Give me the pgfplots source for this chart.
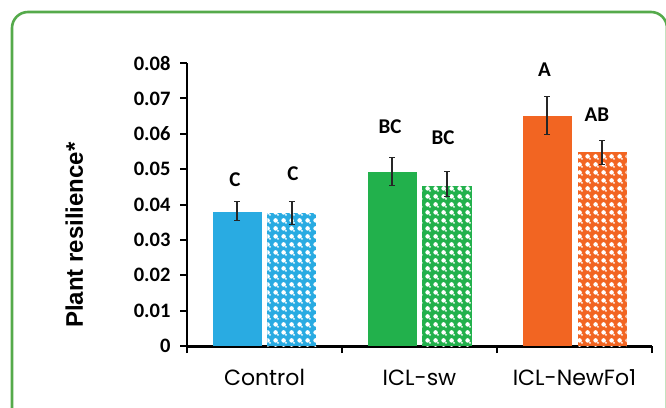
\documentclass[border=0pt]{standalone}
\usepackage{pgfplots}
\pgfplotsset{compat=1.18}
\usepackage{fontspec}
\setmainfont{Carlito}
\newfontfamily\catfont{Poppins}
\newfontfamily\labfont{Liberation Sans}
\usetikzlibrary{patterns}

\definecolor{cblue}{RGB}{41,171,226}
\definecolor{cgreen}{RGB}{34,177,76}
\definecolor{corange}{RGB}{242,101,34}
\definecolor{framegreen}{RGB}{85,170,75}

\pgfdeclarepatternformonly{balls}{\pgfqpoint{0pt}{0pt}}{\pgfqpoint{8pt}{8pt}}{\pgfqpoint{8pt}{8pt}}{%
  \pgfpathcircle{\pgfqpoint{4pt}{4pt}}{2.5pt}%
  \pgfpathcircle{\pgfqpoint{6.7pt}{1.3pt}}{1.1pt}%
  \pgfusepath{fill}}

\pgfplotsset{
  solidbar/.style={ybar, bar width=49pt, bar shift=0pt, draw=none, fill=#1,
    error bars/.cd, y dir=both, y explicit,
    error bar style={black!85, line width=1.1pt},
    error mark options={black!85, line width=1.1pt, mark size=3pt, rotate=90}},
  patbar/.style={ybar, bar width=49pt, bar shift=0pt, draw=none, fill=#1,
    postaction={pattern=balls, pattern color=white},
    error bars/.cd, y dir=both, y explicit,
    error bar style={black!85, line width=1.1pt},
    error mark options={black!85, line width=1.1pt, mark size=3pt, rotate=90}},
}

\begin{document}
\begin{tikzpicture}
\useasboundingbox (0,0) rectangle (666pt,407pt);
\draw[framegreen, line width=2.6pt, rounded corners=16pt] (12pt,-40pt) -- (12pt,395pt) -- (667pt,395pt) -- (667pt,-40pt);
\begin{axis}[
  at={(187pt,61pt)}, anchor=south west,
  scale only axis, width=465pt, height=283pt,
  xmin=-0.5, xmax=2.5, ymin=0, ymax=0.08,
  axis x line=bottom, axis y line=left,
  axis line style={-, black},
  x axis line style={line width=3pt},
  y axis line style={line width=2pt},
  /pgf/number format/assume math mode=true,
  ytick={0,0.01,0.02,0.03,0.04,0.05,0.06,0.07,0.08},
  yticklabels={0,0.01,0.02,0.03,0.04,0.05,0.06,0.07,0.08},
  scaled y ticks=false,
  ytick style={black, line width=2pt},
  tick align=outside, major tick length=7pt,
  yticklabel style={font=\bfseries\fontsize{20.5}{20}\selectfont, anchor=east, xshift=-6pt},
  xtick={0,1,2},
  xticklabels={Control,ICL-sw,ICL-NewFo1},
  xtick style={draw=none},
  xticklabel style={font=\catfont\fontsize{22}{22}\selectfont, anchor=base, yshift=-32pt},
  extra x ticks={-0.5,0.5,1.5,2.5},
  extra x tick labels={},
  extra x tick style={xtick style={draw=black, line width=2pt}},
  ylabel={Plant resilience*},
  every axis y label/.style={at={(axis description cs:-0.2237,0.392)}, rotate=90, anchor=base,
    font=\labfont\bfseries\fontsize{24}{24}\selectfont},
  clip=false,
]
\addplot[solidbar=cblue] coordinates {(-0.1774,0.0380) += (0,0.0028) -= (0,0.0024)};
\addplot[patbar=cblue] coordinates {(0.1774,0.0375) += (0,0.0033) -= (0,0.0031)};
\addplot[solidbar=cgreen] coordinates {(0.8226,0.0493) += (0,0.0039) -= (0,0.0040)};
\addplot[patbar=cgreen] coordinates {(1.1774,0.0453) += (0,0.0040) -= (0,0.0031)};
\addplot[solidbar=corange] coordinates {(1.8226,0.0651) += (0,0.0054) -= (0,0.0052)};
\addplot[patbar=corange] coordinates {(2.1774,0.0549) += (0,0.0033) -= (0,0.0037)};

\begin{scope}[every node/.style={font=\bfseries\fontsize{21}{21}\selectfont, inner sep=0pt}]
\node at (axis cs:-0.190,0.0469) {C};
\node at (axis cs:0.184,0.0488) {C};
\node at (axis cs:0.810,0.0620) {BC};
\node at (axis cs:1.152,0.0590) {BC};
\node at (axis cs:1.807,0.0780) {A};
\node at (axis cs:2.145,0.0653) {AB};
\end{scope}
\end{axis}
\end{tikzpicture}
\end{document}
